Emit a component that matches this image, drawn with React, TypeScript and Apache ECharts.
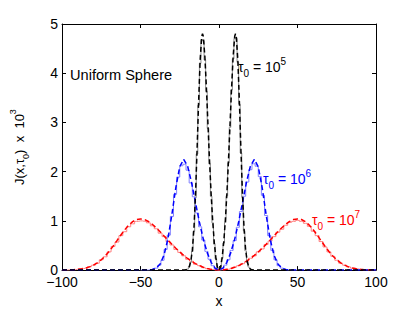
import React, { useEffect, useRef } from 'react';
import * as echarts from 'echarts';

// ---------- data ----------
const xTickLabels = ['−100', '−50', '0', '50', '100'];

// tau0 = 1e5 : analytic (dashed) and Monte-Carlo histogram (solid)
const blackAnalyticX = [-100, -22, -21, -20, -19, -18, -17, -16, -15, -14, -13, -12, -11, -10.5, -10, -9, -8, -7, -6, -5, -4, -3, -2, -1, 0, 1, 2, 3, 4, 5, 6, 7, 8, 9, 10, 10.5, 11, 12, 13, 14, 15, 16, 17, 18, 19, 20, 21, 22, 100];
const blackAnalyticY = [0, 0, 0.006, 0.021, 0.064, 0.17, 0.40, 0.82, 1.50, 2.41, 3.41, 4.27, 4.75, 4.80, 4.75, 4.34, 3.69, 2.94, 2.20, 1.54, 0.99, 0.56, 0.25, 0.06, 0, 0.06, 0.25, 0.56, 0.99, 1.54, 2.20, 2.94, 3.69, 4.34, 4.75, 4.80, 4.75, 4.27, 3.41, 2.41, 1.50, 0.82, 0.40, 0.17, 0.064, 0.021, 0.006, 0, 0];
const blackHistX = [-22, -21, -20, -19, -18, -17, -16, -15, -14, -13, -12, -11, -10, -9, -8, -7, -6, -5, -4, -3, -2, -1, 0, 1, 2, 3, 4, 5, 6, 7, 8, 9, 10, 11, 12, 13, 14, 15, 16, 17, 18, 19, 20, 21, 22];
const blackHistY = [0, 0, 0.02, 0.07, 0.16, 0.38, 0.79, 1.47, 2.36, 3.35, 4.20, 4.68, 4.66, 4.27, 3.63, 2.88, 2.16, 1.50, 0.96, 0.53, 0.23, 0.05, 0, 0.05, 0.24, 0.55, 0.97, 1.51, 2.18, 2.90, 3.66, 4.29, 4.70, 4.71, 4.22, 3.37, 2.38, 1.48, 0.80, 0.39, 0.16, 0.06, 0.02, 0, 0];

// tau0 = 1e6
const blueAnalyticX = [-100, -50, -47.5, -45, -42.5, -40, -37.5, -35, -32.5, -30, -27.5, -25, -22.5, -20, -17.5, -15, -12.5, -10, -7.5, -5, -2.5, 0, 2.5, 5, 7.5, 10, 12.5, 15, 17.5, 20, 22.5, 25, 27.5, 30, 32.5, 35, 37.5, 40, 42.5, 45, 47.5, 50, 100];
const blueAnalyticY = [0, 0, 0, 0.003, 0.012, 0.042, 0.123, 0.306, 0.639, 1.130, 1.677, 2.099, 2.25, 2.113, 1.784, 1.377, 0.977, 0.630, 0.355, 0.158, 0.040, 0, 0.040, 0.158, 0.355, 0.630, 0.977, 1.377, 1.784, 2.113, 2.25, 2.099, 1.677, 1.130, 0.639, 0.306, 0.123, 0.042, 0.012, 0.003, 0, 0, 0];
const blueHistX = [-50, -48, -46, -44, -42, -40, -38, -36, -34, -32, -30, -28, -26, -24, -22, -20, -18, -16, -14, -12, -10, -8, -6, -4, -2, 0, 2, 4, 6, 8, 10, 12, 14, 16, 18, 20, 22, 24, 26, 28, 30, 32, 34, 36, 38, 40, 42, 44, 46, 48, 50];
const blueHistY = [0, 0, 0, 0.005, 0.016, 0.04, 0.10, 0.20, 0.42, 0.71, 1.09, 1.54, 1.89, 2.12, 2.15, 2.03, 1.77, 1.49, 1.16, 0.88, 0.61, 0.38, 0.22, 0.09, 0.02, 0, 0.03, 0.10, 0.21, 0.40, 0.60, 0.87, 1.19, 1.50, 1.79, 2.04, 2.16, 2.11, 1.90, 1.52, 1.11, 0.70, 0.40, 0.21, 0.09, 0.04, 0.014, 0.004, 0, 0, 0];

// tau0 = 1e7
const redX = [-100, -97.5, -95, -92.5, -90, -87.5, -85, -82.5, -80, -77.5, -75, -72.5, -70, -67.5, -65, -62.5, -60, -57.5, -55, -52.5, -50, -47.5, -45, -42.5, -40, -37.5, -35, -32.5, -30, -27.5, -25, -22.5, -20, -17.5, -15, -12.5, -10, -7.5, -5, -2.5, 0, 2.5, 5, 7.5, 10, 12.5, 15, 17.5, 20, 22.5, 25, 27.5, 30, 32.5, 35, 37.5, 40, 42.5, 45, 47.5, 50, 52.5, 55, 57.5, 60, 62.5, 65, 67.5, 70, 72.5, 75, 77.5, 80, 82.5, 85, 87.5, 90, 92.5, 95, 97.5, 100];
const redAnalyticY = [0.001, 0.003, 0.005, 0.009, 0.015, 0.026, 0.042, 0.066, 0.100, 0.147, 0.209, 0.286, 0.379, 0.485, 0.598, 0.713, 0.820, 0.913, 0.984, 1.028, 1.04, 1.028, 0.988, 0.931, 0.860, 0.779, 0.694, 0.607, 0.523, 0.443, 0.367, 0.298, 0.236, 0.181, 0.133, 0.092, 0.059, 0.033, 0.015, 0.004, 0, 0.004, 0.015, 0.033, 0.059, 0.092, 0.133, 0.181, 0.236, 0.298, 0.367, 0.443, 0.523, 0.607, 0.694, 0.779, 0.860, 0.931, 0.988, 1.028, 1.04, 1.028, 0.984, 0.913, 0.820, 0.713, 0.598, 0.485, 0.379, 0.286, 0.209, 0.147, 0.100, 0.066, 0.042, 0.026, 0.015, 0.009, 0.005, 0.003, 0.001];
const redHistY = [0, 0, 0.004, 0.009, 0.016, 0.028, 0.04, 0.07, 0.10, 0.14, 0.21, 0.27, 0.37, 0.48, 0.57, 0.70, 0.78, 0.88, 0.94, 0.99, 1.00, 0.99, 0.96, 0.90, 0.84, 0.75, 0.68, 0.58, 0.51, 0.42, 0.36, 0.29, 0.22, 0.18, 0.12, 0.09, 0.05, 0.03, 0.012, 0.004, 0, 0.005, 0.016, 0.03, 0.06, 0.09, 0.13, 0.17, 0.24, 0.29, 0.37, 0.43, 0.52, 0.59, 0.68, 0.77, 0.83, 0.91, 0.97, 0.99, 1.01, 0.99, 0.95, 0.89, 0.79, 0.70, 0.58, 0.47, 0.37, 0.28, 0.20, 0.14, 0.10, 0.065, 0.04, 0.025, 0.014, 0.008, 0.004, 0.001, 0];

const curveLabels = [
  { exp: '5', color: '#000000' },
  { exp: '6', color: '#0000ff' },
  { exp: '7', color: '#ff0000' },
];

const pairs = (xs: number[], ys: number[]) => xs.map((x, i) => [x, ys[i]]);

const FONT = '"Liberation Sans", Arial, Helvetica, sans-serif';

export default function App() {
  const ref = useRef<HTMLDivElement>(null);

  useEffect(() => {
    if (!ref.current) return;
    const chart = echarts.init(ref.current, null, { renderer: 'svg' });

    const histLine = (data: number[][], color: string) => ({
      type: 'line',
      data,
      step: 'middle',
      symbol: 'none',
      silent: true,
      lineStyle: { color, width: 1 },
      z: 2,
    });
    const dashLine = (data: number[][], color: string) => ({
      type: 'line',
      data,
      symbol: 'none',
      silent: true,
      lineStyle: { color, width: 1.5, type: [5, 3] },
      z: 3,
    });

    const richFor = (color: string, size: number) => ({
      a: { fontSize: size, fontFamily: FONT, color, lineHeight: 22 },
      b: { fontSize: size - 4, fontFamily: FONT, color, lineHeight: 12, verticalAlign: 'bottom' },
      c: { fontSize: size - 4, fontFamily: FONT, color, lineHeight: 12, verticalAlign: 'top' },
    });

    const labelPos = [
      { x: 238, y: 67 },
      { x: 263, y: 179 },
      { x: 312, y: 220 },
    ];

    const axisCommon = {
      splitLine: { show: false },
      axisLine: { show: true, onZero: false, lineStyle: { color: '#000', width: 1 } },
      axisTick: { show: true, inside: true, length: 4, lineStyle: { color: '#000' } },
    };

    const option = {
      animation: false,
      backgroundColor: '#ffffff',
      grid: { left: 54, right: 39, top: 24, bottom: 36, containLabel: false },
      xAxis: [
        {
          ...axisCommon,
          type: 'value',
          position: 'bottom',
          min: -100,
          max: 100,
          interval: 50,
          axisLabel: {
            fontSize: 14,
            lineHeight: 12,
            fontFamily: FONT,
            color: '#000',
            margin: 6,
            formatter: (v: number) => xTickLabels[Math.round((v + 100) / 50)],
          },
          name: 'x',
          nameLocation: 'middle',
          nameGap: 19,
          nameTextStyle: { fontSize: 14, fontFamily: FONT, color: '#000' },
        },
        {
          ...axisCommon,
          type: 'value',
          position: 'top',
          min: -100,
          max: 100,
          interval: 50,
          axisLabel: { show: false },
        },
      ],
      yAxis: [
        {
          ...axisCommon,
          type: 'value',
          position: 'left',
          min: 0,
          max: 5,
          interval: 1,
          axisLabel: { fontSize: 14, lineHeight: 11, fontFamily: FONT, color: '#000', margin: 4 },
          name: '{a|J(x,τ}{b|0}{a|)  x  10}{c|3}',
          nameLocation: 'middle',
          nameGap: 32,
          nameTextStyle: { color: '#000', rich: richFor('#000', 13) },
        },
        {
          ...axisCommon,
          type: 'value',
          position: 'right',
          min: 0,
          max: 5,
          interval: 1,
          axisLabel: { show: false },
        },
      ],
      series: [
        histLine(pairs(redX, redHistY), '#ff8080'),
        histLine(pairs(blueHistX, blueHistY), '#8080ff'),
        histLine(pairs(blackHistX, blackHistY), '#8c8c8c'),
        dashLine(pairs(redX, redAnalyticY), '#ff0000'),
        dashLine(pairs(blueAnalyticX, blueAnalyticY), '#0000ff'),
        dashLine(pairs(blackAnalyticX, blackAnalyticY), '#000000'),
      ],
      graphic: [
        {
          type: 'text',
          x: 70,
          y: 75,
          style: {
            text: 'Uniform Sphere',
            fontSize: 14.6,
            fontFamily: FONT,
            fill: '#000',
            align: 'left',
            verticalAlign: 'middle',
          },
        },
        ...curveLabels.map((l, i) => ({
          type: 'text',
          x: labelPos[i].x,
          y: labelPos[i].y,
          style: {
            text: `{a|τ}{b|0}{a| = 10}{c|${l.exp}}`,
            rich: richFor(l.color, 14),
            fill: l.color,
            align: 'left',
            verticalAlign: 'middle',
          },
        })),
      ],
    };

    chart.setOption(option as any);
    return () => chart.dispose();
  }, []);

  return (
    <div
      ref={ref}
      style={{ position: 'fixed', left: 0, top: 0, width: 415, height: 313, background: '#fff' }}
    />
  );
}
